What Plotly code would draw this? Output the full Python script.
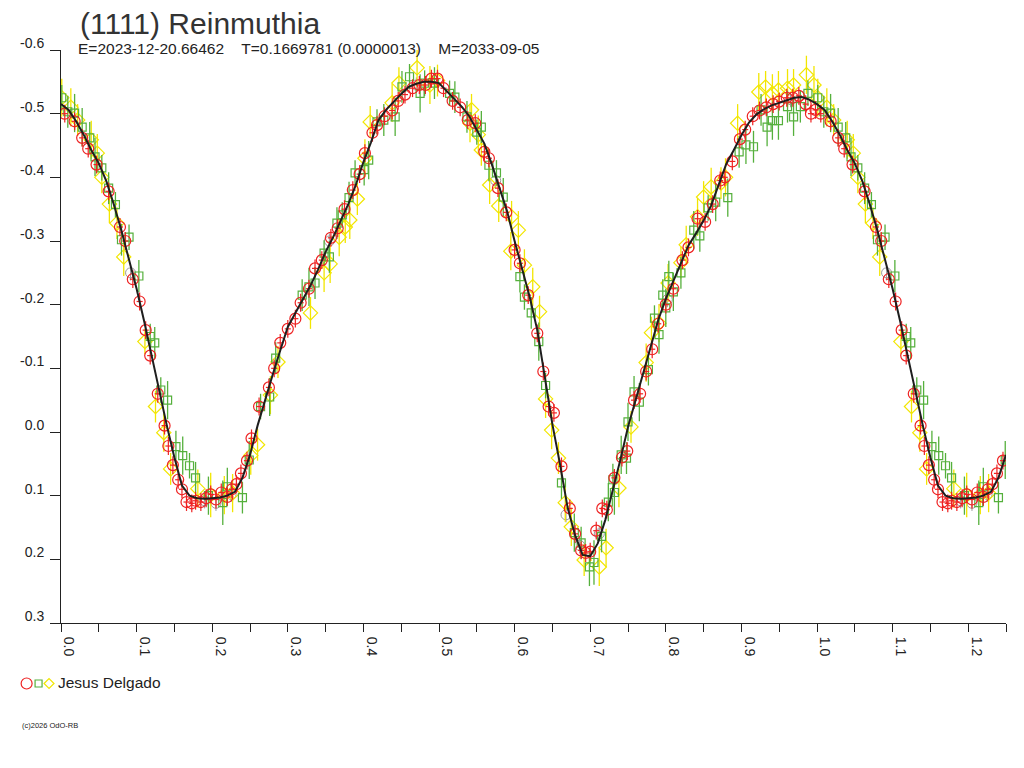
import plotly.graph_objects as go

# ---------------- data ----------------
CURVE_MAG = [
    -0.515, -0.506, -0.488, -0.467, -0.443, -0.422, -0.394, -0.357, -0.316, -0.271,
    -0.225, -0.174, -0.122, -0.065, -0.010, 0.040, 0.084, 0.100, 0.104, 0.105,
    0.104, 0.103, 0.100, 0.094, 0.072, 0.036, -0.010, -0.052, -0.090, -0.128,
    -0.165, -0.187, -0.209, -0.230, -0.255, -0.283, -0.306, -0.331, -0.358, -0.388,
    -0.424, -0.455, -0.490, -0.506, -0.519, -0.531, -0.542, -0.547, -0.550, -0.550,
    -0.548, -0.536, -0.523, -0.511, -0.496, -0.475, -0.453, -0.420, -0.385, -0.347,
    -0.300, -0.255, -0.212, -0.160, -0.087, -0.012, 0.050, 0.118, 0.162, 0.193,
    0.195, 0.175, 0.138, 0.091, 0.043, -0.008, -0.050, -0.095, -0.136, -0.176,
    -0.209, -0.238, -0.266, -0.293, -0.312, -0.332, -0.356, -0.390, -0.421, -0.443,
    -0.466, -0.486, -0.499, -0.507, -0.513, -0.517, -0.521, -0.525, -0.526, -0.522,
    -0.515,
]

RED_PHASE = [0.005, 0.018, 0.028, 0.036, 0.047, 0.063, 0.078, 0.085, 0.095, 0.104,
             0.112, 0.118, 0.128, 0.137, 0.142, 0.148, 0.155, 0.160, 0.166, 0.173,
             0.178, 0.185, 0.192, 0.198, 0.205, 0.212, 0.220, 0.226, 0.232, 0.238,
             0.246, 0.252, 0.262, 0.275, 0.282, 0.290, 0.300, 0.310, 0.317, 0.328,
             0.336, 0.345, 0.357, 0.366, 0.375, 0.386, 0.395, 0.402, 0.412, 0.418,
             0.428, 0.438, 0.446, 0.455, 0.465, 0.474, 0.482, 0.490, 0.498, 0.506,
             0.518, 0.528, 0.538, 0.548, 0.560, 0.566, 0.578, 0.589, 0.600, 0.607,
             0.618, 0.630, 0.638, 0.645, 0.652, 0.662, 0.673, 0.680, 0.688, 0.694,
             0.700, 0.708, 0.716, 0.722, 0.732, 0.742, 0.749, 0.758, 0.766, 0.774,
             0.782, 0.790, 0.800, 0.810, 0.822, 0.830, 0.842, 0.852, 0.862, 0.872,
             0.878, 0.888, 0.898, 0.905, 0.915, 0.924, 0.933, 0.942, 0.950, 0.960,
             0.968, 0.976, 0.985, 0.992, 0.998]
RED_MAG = [-0.500, -0.488, -0.462, -0.445, -0.420, -0.378, -0.322, -0.300, -0.240, -0.205,
           -0.160, -0.120, -0.060, -0.010, 0.022, 0.052, 0.075, 0.090, 0.110, 0.112,
           0.108, 0.110, 0.104, 0.098, 0.106, 0.095, 0.102, 0.090, 0.082, 0.065,
           0.045, 0.010, -0.040, -0.070, -0.100, -0.140, -0.162, -0.178, -0.203, -0.225,
           -0.257, -0.270, -0.305, -0.320, -0.350, -0.380, -0.405, -0.438, -0.470, -0.482,
           -0.496, -0.505, -0.520, -0.530, -0.540, -0.545, -0.545, -0.555, -0.555, -0.540,
           -0.520, -0.510, -0.490, -0.485, -0.440, -0.430, -0.383, -0.345, -0.286, -0.265,
           -0.215, -0.155, -0.095, -0.040, -0.030, 0.054, 0.120, 0.160, 0.186, 0.190,
           0.188, 0.155, 0.120, 0.122, 0.072, 0.040, 0.030, -0.050, -0.060, -0.095,
           -0.130, -0.170, -0.200, -0.225, -0.270, -0.290, -0.335, -0.330, -0.358, -0.395,
           -0.400, -0.425, -0.460, -0.475, -0.496, -0.505, -0.510, -0.515, -0.519, -0.525,
           -0.525, -0.528, -0.515, -0.500, -0.506]

GREEN_PHASE = [0.001, 0.009, 0.018, 0.028, 0.038, 0.045, 0.054, 0.063, 0.072, 0.080,
               0.090, 0.103, 0.118, 0.124, 0.132, 0.141, 0.152, 0.161, 0.170, 0.178,
               0.195, 0.214, 0.220, 0.240, 0.249, 0.264, 0.276, 0.284, 0.319, 0.328,
               0.336, 0.348, 0.355, 0.365, 0.372, 0.381, 0.389, 0.401, 0.407, 0.418,
               0.427, 0.442, 0.451, 0.461, 0.475, 0.481, 0.494, 0.514, 0.521, 0.537,
               0.550, 0.556, 0.566, 0.576, 0.585, 0.607, 0.613, 0.622, 0.632, 0.641,
               0.662, 0.679, 0.688, 0.699, 0.705, 0.715, 0.724, 0.732, 0.730, 0.741,
               0.748, 0.750, 0.758, 0.765, 0.777, 0.785, 0.791, 0.796, 0.800, 0.804,
               0.810, 0.820, 0.837, 0.845, 0.856, 0.866, 0.882, 0.897, 0.906, 0.916,
               0.926, 0.934, 0.941, 0.949, 0.961, 0.969, 0.978, 0.988]
GREEN_MAG = [-0.525, -0.503, -0.501, -0.479, -0.462, -0.432, -0.415, -0.383, -0.357, -0.302,
             -0.306, -0.245, -0.150, -0.140, -0.066, -0.050, 0.023, 0.037, 0.053, 0.072,
             0.100, 0.111, 0.086, 0.103, 0.044, -0.040, -0.055, -0.116, -0.215, -0.228,
             -0.234, -0.281, -0.275, -0.328, -0.341, -0.368, -0.407, -0.412, -0.427, -0.487,
             -0.490, -0.495, -0.542, -0.558, -0.532, -0.548, -0.548, -0.532, -0.526, -0.495,
             -0.471, -0.479, -0.419, -0.407, -0.369, -0.244, -0.212, -0.187, -0.142, -0.073,
             0.080, 0.158, 0.174, 0.212, 0.205, 0.164, 0.110, 0.095, 0.075, 0.036,
             0.041, -0.016, -0.063, -0.047, -0.098, -0.179, -0.153, -0.215, -0.195, -0.244,
             -0.220, -0.250, -0.317, -0.308, -0.352, -0.361, -0.368, -0.440, -0.451, -0.448,
             -0.506, -0.479, -0.489, -0.489, -0.511, -0.495, -0.511, -0.532]
GREEN_ERR = [0.020, 0.025, 0.030, 0.030, 0.025, 0.030, 0.020, 0.025, 0.020, 0.025,
             0.020, 0.025, 0.020, 0.025, 0.020, 0.030, 0.025, 0.030, 0.020, 0.025,
             0.030, 0.035, 0.030, 0.025, 0.030, 0.020, 0.030, 0.025, 0.025, 0.030,
             0.025, 0.020, 0.025, 0.025, 0.020, 0.025, 0.020, 0.025, 0.030, 0.020,
             0.025, 0.030, 0.025, 0.020, 0.030, 0.020, 0.025, 0.020, 0.025, 0.025,
             0.020, 0.025, 0.025, 0.020, 0.030, 0.025, 0.020, 0.025, 0.030, 0.020,
             0.025, 0.030, 0.025, 0.030, 0.035, 0.025, 0.030, 0.035, 0.025, 0.030,
             0.025, 0.030, 0.025, 0.030, 0.025, 0.020, 0.030, 0.025, 0.030, 0.025,
             0.030, 0.025, 0.030, 0.025, 0.020, 0.030, 0.030, 0.025, 0.030, 0.025,
             0.025, 0.030, 0.030, 0.030, 0.025, 0.030, 0.025, 0.020]

YELLOW_PHASE = [0.001, 0.013, 0.022, 0.040, 0.048, 0.054, 0.064, 0.074, 0.083, 0.111,
                0.125, 0.136, 0.145, 0.181, 0.198, 0.216, 0.227, 0.251, 0.260, 0.277,
                0.287, 0.330, 0.348, 0.356, 0.368, 0.376, 0.382, 0.392, 0.402, 0.409,
                0.438, 0.447, 0.471, 0.488, 0.498, 0.541, 0.543, 0.552, 0.556, 0.567,
                0.579, 0.595, 0.596, 0.605, 0.613, 0.624, 0.633, 0.641, 0.649, 0.658,
                0.667, 0.675, 0.692, 0.712, 0.721, 0.738, 0.754, 0.774, 0.781, 0.791,
                0.803, 0.820, 0.827, 0.842, 0.850, 0.860, 0.873, 0.879, 0.895, 0.923,
                0.932, 0.941, 0.949, 0.961, 0.969, 0.986, 0.996]
YELLOW_MAG = [-0.525, -0.510, -0.490, -0.459, -0.438, -0.400, -0.358, -0.328, -0.275, -0.142,
              -0.040, 0.001, 0.058, 0.089, 0.099, 0.099, 0.096, 0.037, 0.020, -0.058,
              -0.110, -0.187, -0.250, -0.264, -0.306, -0.322, -0.333, -0.366, -0.430, -0.487,
              -0.517, -0.548, -0.572, -0.545, -0.552, -0.485, -0.506, -0.467, -0.443, -0.388,
              -0.355, -0.284, -0.338, -0.317, -0.262, -0.228, -0.189, -0.052, -0.003, 0.041,
              0.111, 0.149, 0.201, 0.212, 0.182, 0.088, -0.008, -0.109, -0.156, -0.171,
              -0.234, -0.266, -0.294, -0.338, -0.369, -0.385, -0.391, -0.400, -0.485, -0.534,
              -0.542, -0.532, -0.537, -0.540, -0.545, -0.561, -0.545]
YELLOW_ERR = [0.030, 0.030, 0.025, 0.030, 0.030, 0.025, 0.030, 0.025, 0.030, 0.020,
              0.025, 0.030, 0.025, 0.030, 0.035, 0.030, 0.030, 0.030, 0.025, 0.030,
              0.025, 0.025, 0.030, 0.030, 0.030, 0.025, 0.030, 0.025, 0.030, 0.025,
              0.030, 0.025, 0.030, 0.030, 0.025, 0.030, 0.025, 0.030, 0.025, 0.030,
              0.025, 0.030, 0.025, 0.030, 0.025, 0.030, 0.025, 0.030, 0.030, 0.025,
              0.030, 0.030, 0.025, 0.030, 0.030, 0.030, 0.025, 0.030, 0.025, 0.030,
              0.030, 0.025, 0.030, 0.030, 0.025, 0.030, 0.025, 0.030, 0.030, 0.030,
              0.025, 0.030, 0.030, 0.030, 0.025, 0.030, 0.030]

GRAY_PHASE = [0.092, 0.190, 0.205, 0.225, 0.355, 0.470, 0.575, 0.668, 0.686, 0.712, 0.802, 0.965]
GRAY_MAG = [-0.250, 0.108, 0.112, 0.098, -0.300, -0.545, -0.395, 0.130, 0.178, 0.160, -0.208, -0.522]

Y_TICKS = [-0.6, -0.5, -0.4, -0.3, -0.2, -0.1, 0.0, 0.1, 0.2, 0.3]
Y_LABELS = ["-0.6", "-0.5", "-0.4", "-0.3", "-0.2", "-0.1", "0.0", "0.1", "0.2", "0.3"]
X_TICKS = [i * 0.05 for i in range(26)]
X_LABELS = [("%.1f" % v) if i % 2 == 0 else "" for i, v in enumerate(X_TICKS)]

TITLE = "(1111) Reinmuthia"
SUBTITLE = "E=2023-12-20.66462&nbsp;&nbsp;&nbsp;&nbsp;T=0.1669781 (0.0000013)&nbsp;&nbsp;&nbsp;&nbsp;M=2033-09-05"
OBSERVER = "Jesus Delgado"
COPYRIGHT = "(c)2026 OdO-RB"

WRAP = 0.25
XMAX = 1.25


def wrap(ph, mg, er=None):
    xs, ys, es = list(ph), list(mg), list(er) if er is not None else None
    for i, p in enumerate(ph):
        if p <= WRAP:
            xs.append(p + 1.0)
            ys.append(mg[i])
            if es is not None:
                es.append(er[i])
    return xs, ys, es


curve_x = [i / 100 for i in range(len(CURVE_MAG))]
curve_y = list(CURVE_MAG)
for i in range(1, 26):
    curve_x.append(1.0 + i / 100)
    curve_y.append(CURVE_MAG[i])

RED = "#ee2222"
GREEN = "#55b03c"
YELLOW = "#f2e600"
GRAY = "#9a9a9a"

fig = go.Figure()

gx, gy, _ = wrap(GRAY_PHASE, GRAY_MAG)
fig.add_trace(go.Scatter(x=gx, y=gy, mode="markers",
                         marker=dict(symbol="circle-open", size=10, color=GRAY, line=dict(width=1)),
                         error_y=dict(type="constant", value=0.012, color=GRAY, thickness=1, width=0),
                         showlegend=False))

yx, yy, ye = wrap(YELLOW_PHASE, YELLOW_MAG, YELLOW_ERR)
fig.add_trace(go.Scatter(x=yx, y=yy, mode="markers",
                         marker=dict(symbol="diamond-open", size=11, color=YELLOW, line=dict(width=1.2)),
                         error_y=dict(type="data", array=ye, color=YELLOW, thickness=1.3, width=0),
                         showlegend=False))

gxx, gyy, gee = wrap(GREEN_PHASE, GREEN_MAG, GREEN_ERR)
fig.add_trace(go.Scatter(x=gxx, y=gyy, mode="markers",
                         marker=dict(symbol="square-open", size=8, color=GREEN, line=dict(width=1.2)),
                         error_y=dict(type="data", array=gee, color=GREEN, thickness=1.3, width=0),
                         showlegend=False))

rx, ry, _ = wrap(RED_PHASE, RED_MAG)
fig.add_trace(go.Scatter(x=rx, y=ry, mode="markers",
                         marker=dict(symbol="circle-open", size=11, color=RED, line=dict(width=1.2)),
                         error_y=dict(type="constant", value=0.014, color=RED, thickness=1.2, width=0),
                         error_x=dict(type="constant", value=0.004, color=RED, thickness=1.2, width=0),
                         showlegend=False))

fig.add_trace(go.Scatter(x=curve_x, y=curve_y, mode="lines",
                         line=dict(color="#1e1e1e", width=2), showlegend=False))

FONT = "Liberation Sans, Arial, sans-serif"

# the page adds an 8 px body margin, so margins are reduced by 8 px on left/top
fig.update_layout(
    width=1024, height=768,
    margin=dict(l=50, r=26, t=42, b=153),
    paper_bgcolor="white", plot_bgcolor="white",
    font=dict(family=FONT, color="#222"),
    showlegend=False,
    xaxis=dict(range=[0, XMAX], tickmode="array", tickvals=X_TICKS, ticktext=X_LABELS,
               showgrid=False, zeroline=False, showline=True, linecolor="#222", linewidth=1,
               ticks="outside", ticklen=8, tickcolor="#222", tickwidth=1,
               tickangle=90, ticklabelshift=8, ticklabelstandoff=2,
               tickfont=dict(size=14, color="#222", family=FONT)),
    yaxis=dict(range=[0.3, -0.6], tickmode="array", tickvals=Y_TICKS, ticktext=Y_LABELS,
               showgrid=False, zeroline=False, showline=True, linecolor="#222", linewidth=1,
               ticks="outside", ticklen=10, tickcolor="#222", tickwidth=1,
               ticklabelshift=7, ticklabelstandoff=3,
               tickfont=dict(size=14, color="#222", family=FONT)),
)

W, H = 948.0, 573.0


def px(xp):
    return (xp - 58) / W


def py(yp):
    return (623 - yp) / H


fig.add_annotation(text=TITLE, x=px(76), y=py(23), xref="paper", yref="paper",
                   xanchor="left", yanchor="middle", showarrow=False, borderpad=0,
                   font=dict(size=30, color="#333", family=FONT))
fig.add_annotation(text=SUBTITLE, x=px(74), y=py(48), xref="paper", yref="paper",
                   xanchor="left", yanchor="middle", showarrow=False, borderpad=0,
                   font=dict(size=15.5, color="#222", family=FONT))
fig.add_annotation(text=OBSERVER, x=px(54), y=py(683), xref="paper", yref="paper",
                   xanchor="left", yanchor="middle", showarrow=False, borderpad=0,
                   font=dict(size=15.5, color="#222", family=FONT))
fig.add_annotation(text=COPYRIGHT, x=px(18), y=py(725), xref="paper", yref="paper",
                   xanchor="left", yanchor="middle", showarrow=False, borderpad=0,
                   font=dict(size=7.5, color="#222", family=FONT))

# legend symbols
fig.add_shape(type="circle", xref="paper", yref="paper",
              x0=px(18), x1=px(29), y0=py(689), y1=py(678), line=dict(color=RED, width=1.2))
fig.add_shape(type="rect", xref="paper", yref="paper",
              x0=px(32), x1=px(39), y0=py(687), y1=py(680), line=dict(color=GREEN, width=1.2))
fig.add_shape(type="path", xref="paper", yref="paper",
              path="M %f,%f L %f,%f L %f,%f L %f,%f Z" % (px(41), py(683.5), px(46), py(678.5),
                                                          px(51), py(683.5), px(46), py(688.5)),
              line=dict(color=YELLOW, width=1.2))

fig.write_html("out.html")
